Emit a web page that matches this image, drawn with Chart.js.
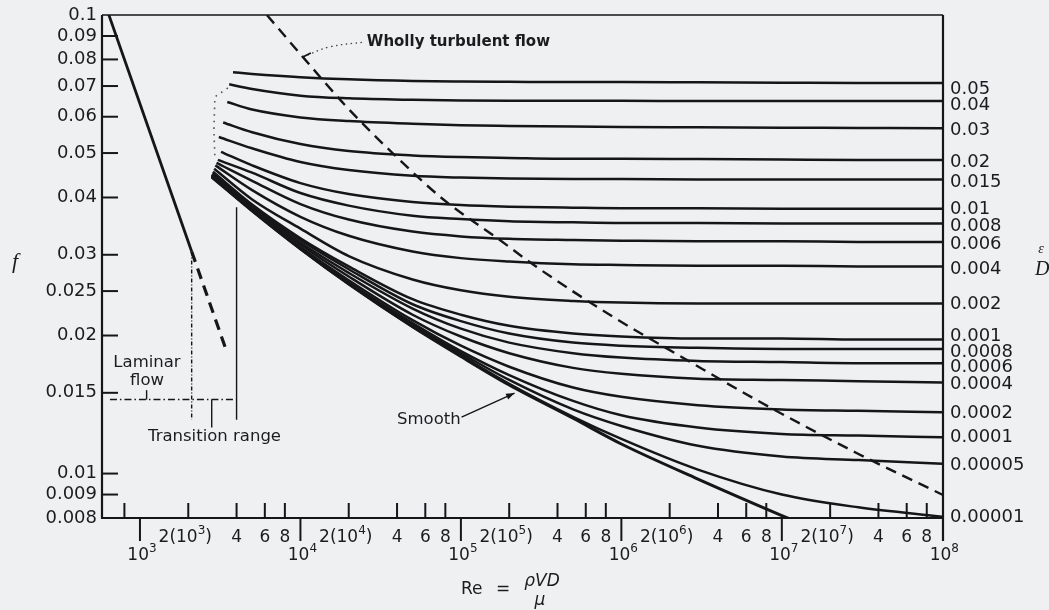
<!DOCTYPE html>
<html><head><meta charset="utf-8">
<script src="https://cdn.jsdelivr.net/npm/chart.js@4.4.1/dist/chart.umd.min.js"></script>
<style>html,body{margin:0;padding:0;background:#eef0f2;}canvas{display:block;}</style>
</head><body>
<canvas id="c" width="1049" height="610"></canvas>
<script>
// ---------- DATA ----------
const reGrid = [5e3, 1e4, 2e4, 5e4, 1e5, 2e5, 5e5, 1e6, 3e6, 1e7, 3e7, 1e8];
const roughnessLabels = ['0.05','0.04','0.03','0.02','0.015','0.01','0.008','0.006','0.004','0.002','0.001','0.0008','0.0006','0.0004','0.0002','0.0001','0.00005','0.00001'];
const curveStartRe = [3800, 3600, 3500, 3300, 3100, 3200, 3060, 3000, 2950, 2900, 2850, 2850, 2850, 2800, 2800, 2800, 2800, 2800];
const curveStartF  = [0.0750, 0.0706, 0.0646, 0.0583, 0.0542, 0.0503, 0.0483, 0.0476, 0.0470, 0.0462, 0.0455, 0.0453, 0.0451, 0.0449, 0.0447, 0.0446, 0.0445, 0.0444];
const f_0_05    = [0.0744, 0.0732, 0.0724, 0.0718, 0.0716, 0.0715, 0.0714, 0.0714, 0.0713, 0.0712, 0.0711, 0.0711];
const f_0_04    = [0.0690, 0.0667, 0.0658, 0.0653, 0.0651, 0.0650, 0.0650, 0.0650, 0.0649, 0.0649, 0.0649, 0.0649];
const f_0_03    = [0.0622, 0.0598, 0.0587, 0.0579, 0.0575, 0.0573, 0.0571, 0.0570, 0.0569, 0.0568, 0.0567, 0.0566];
const f_0_02    = [0.0555, 0.0523, 0.0505, 0.0494, 0.0490, 0.0488, 0.0486, 0.0486, 0.0485, 0.0484, 0.0483, 0.0483];
const f_0_015   = [0.0512, 0.0478, 0.0459, 0.0446, 0.0442, 0.0440, 0.0439, 0.0439, 0.0438, 0.0438, 0.0438, 0.0438];
const f_0_01    = [0.0470, 0.0430, 0.0407, 0.0391, 0.0385, 0.0382, 0.0380, 0.0379, 0.0379, 0.0378, 0.0378, 0.0378];
const f_0_008   = [0.0453, 0.0409, 0.0384, 0.0365, 0.0359, 0.0355, 0.0353, 0.0352, 0.0352, 0.0351, 0.0351, 0.0351];
const f_0_006   = [0.0435, 0.0387, 0.0358, 0.0337, 0.0329, 0.0325, 0.0323, 0.0322, 0.0321, 0.0321, 0.0320, 0.0320];
const f_0_004   = [0.0415, 0.0363, 0.0330, 0.0305, 0.0295, 0.0290, 0.0286, 0.0285, 0.0284, 0.0284, 0.0283, 0.0283];
const f_0_002   = [0.0396, 0.0342, 0.0298, 0.0265, 0.0251, 0.0243, 0.0238, 0.0236, 0.0235, 0.0235, 0.0235, 0.0235];
const f_0_001   = [0.0386, 0.0326, 0.0283, 0.0240, 0.0222, 0.0210, 0.0202, 0.0199, 0.0197, 0.0197, 0.0196, 0.0196];
const f_0_0008  = [0.0384, 0.0323, 0.0279, 0.0234, 0.0215, 0.0202, 0.0193, 0.0190, 0.0188, 0.0187, 0.0187, 0.0187];
const f_0_0006  = [0.0382, 0.0319, 0.0274, 0.0229, 0.0207, 0.0193, 0.0183, 0.0179, 0.0176, 0.0175, 0.0174, 0.0174];
const f_0_0004  = [0.0379, 0.0316, 0.0269, 0.0222, 0.0199, 0.0183, 0.0170, 0.0165, 0.0161, 0.0160, 0.0159, 0.0158];
const f_0_0002  = [0.0377, 0.0312, 0.0264, 0.0216, 0.0190, 0.0171, 0.0154, 0.0147, 0.0141, 0.0138, 0.0137, 0.0136];
const f_0_0001  = [0.0375, 0.0311, 0.0261, 0.0213, 0.0185, 0.0164, 0.0144, 0.0134, 0.0126, 0.0122, 0.0121, 0.0120];
const f_0_00005 = [0.0375, 0.0310, 0.0260, 0.0211, 0.0183, 0.0160, 0.0138, 0.0127, 0.0115, 0.0109, 0.0107, 0.0105];
const f_0_00001 = [0.0374, 0.0309, 0.0259, 0.0209, 0.0181, 0.0157, 0.0133, 0.0119, 0.0102, 0.0090, 0.00844, 0.00805];
const smoothStartRe = 2800, smoothStartF = 0.0443;
const f_smooth  = [0.0374, 0.0309, 0.0259, 0.0209, 0.0180, 0.0156, 0.0132, 0.0116, 0.00973, 0.0081, 0.0069, 0.0058];

const laminarRe = [600, 2100];            const laminarF = [0.1067, 0.0305];
const laminarExtRe = [2100, 3500];        const laminarExtF = [0.0305, 0.0183];
const turbBoundaryRe = [6180, 10350, 19450, 39800, 77100, 175000, 297000, 881000, 2550000, 6950000, 29200000, 101000000];
const turbBoundaryF  = [0.100, 0.0810, 0.0630, 0.0490, 0.0397, 0.0323, 0.0282, 0.0220, 0.0177, 0.01447, 0.01109, 0.00898];
const startDotsRe = [3530, 2930, 2890, 2930];
const startDotsF  = [0.0693, 0.0663, 0.0561, 0.0488];
const turbLeaderRe = [10350, 15200, 25200];
const turbLeaderF  = [0.0810, 0.0852, 0.0873];
const smoothLeaderRe = [101000, 216000];
const smoothLeaderF  = [0.01328, 0.01498];
const transLowRe = [2100, 2100];   const transLowF = [0.0305, 0.0131];
const transHighRe = [4000, 4000];  const transHighF = [0.0381, 0.0131];
const transBarRe = [650, 4000];    const transBarF = [0.0145, 0.0145];
const transMidRe = [2800, 2800];   const transMidF = [0.0145, 0.0126];
const transMarkRe = [1100, 1100];  const transMarkF = [0.0145, 0.0152];

const yTickValues = [0.1, 0.09, 0.08, 0.07, 0.06, 0.05, 0.04, 0.03, 0.025, 0.02, 0.015, 0.01, 0.009, 0.008];
const yTickLabels = ['0.1','0.09','0.08','0.07','0.06','0.05','0.04','0.03','0.025','0.02','0.015','0.01','0.009','0.008'];
const xMinorTicks = [800, 2e3, 4e3, 6e3, 8e3, 2e4, 4e4, 6e4, 8e4, 2e5, 4e5, 6e5, 8e5, 2e6, 4e6, 6e6, 8e6, 2e7, 4e7, 6e7, 8e7];
const xDecades = [1e3, 1e4, 1e5, 1e6, 1e7, 1e8];

// ---------- STYLE ----------
const INK = '#161618', TXT = '#1c1c1e', BG = '#eef0f2';
const rightLabelNudge = [6, 4, 2, 2.5, 2.5, 1, 2.5, 2, 2.5, 0.5, -3.5, 3, 3.7, 1.5, 0.7, 0, 1, 1];

const roughSeries = [f_0_05, f_0_04, f_0_03, f_0_02, f_0_015, f_0_01, f_0_008, f_0_006, f_0_004, f_0_002, f_0_001, f_0_0008, f_0_0006, f_0_0004, f_0_0002, f_0_0001, f_0_00005, f_0_00001];
const pts = (xs, ys) => xs.map((x, i) => ({x, y: ys[i]}));

const datasets = [];
roughSeries.forEach((fa, i) => {
  datasets.push({label: roughnessLabels[i], data: [{x: curveStartRe[i], y: curveStartF[i]}].concat(pts(reGrid, fa)),
    borderColor: INK, borderWidth: 2.5, cubicInterpolationMode: 'monotone', pointRadius: 0, fill: false});
});
datasets.push({label: 'Smooth', data: [{x: smoothStartRe, y: smoothStartF}].concat(pts(reGrid, f_smooth)),
  borderColor: INK, borderWidth: 3, cubicInterpolationMode: 'monotone', pointRadius: 0});
const ann = (data, w, dash, color) => ({data, borderColor: color || INK, borderWidth: w, borderDash: dash || [], pointRadius: 0, tension: 0, borderCapStyle: 'butt'});
datasets.push(ann(pts(laminarRe, laminarF), 2.8));
datasets.push(ann(pts(laminarExtRe, laminarExtF), 3.2, [11, 7]));
datasets.push(Object.assign(ann(pts(turbBoundaryRe, turbBoundaryF), 2.4, [11, 7]), {cubicInterpolationMode: 'monotone'}));
datasets.push(ann(pts(startDotsRe, startDotsF), 1.6, [1.6, 5], '#555'));
datasets.push(Object.assign(ann(pts(turbLeaderRe, turbLeaderF), 1.3, [1.5, 3.5], '#444'), {tension: 0.4}));
datasets.push(ann(pts(smoothLeaderRe, smoothLeaderF), 1.4));
datasets.push(ann(pts(transLowRe, transLowF), 1.4, [4, 2, 1, 2]));
datasets.push(ann(pts(transHighRe, transHighF), 1.4));
datasets.push(ann(pts(transBarRe, transBarF), 1.4, [7, 3, 1.5, 3]));
datasets.push(ann(pts(transMidRe, transMidF), 1.4));
datasets.push(ann(pts(transMarkRe, transMarkF), 1.4));

function supText(ctx, parts, x, y, align, size) {
  const base = size + 'px "DejaVu Sans"', sup = Math.round(size * 0.7) + 'px "DejaVu Sans"';
  let w = 0;
  parts.forEach(p => { ctx.font = p.s ? sup : base; p.w = ctx.measureText(p.t).width; w += p.w; });
  let cx = align === 'center' ? x - w / 2 : (align === 'right' ? x - w : x);
  ctx.textAlign = 'left';
  parts.forEach(p => { ctx.font = p.s ? sup : base; ctx.fillText(p.t, cx, p.s ? y - size * 0.42 : y); cx += p.w; });
}

const decor = {
  id: 'decor',
  beforeDraw(chart) {
    const c = chart.ctx; c.save(); c.fillStyle = BG; c.fillRect(0, 0, chart.width, chart.height); c.restore();
  },
  afterDatasetsDraw(chart) {
    const ctx = chart.ctx, ca = chart.chartArea, xs = chart.scales.x, ys = chart.scales.y;
    const X = v => xs.getPixelForValue(v), Y = v => ys.getPixelForValue(v);
    const seg = (a, b, c, d) => { ctx.beginPath(); ctx.moveTo(a, b); ctx.lineTo(c, d); ctx.stroke(); };
    ctx.save();
    ctx.strokeStyle = INK; ctx.fillStyle = TXT;
    // frame
    ctx.lineWidth = 2.2;
    seg(ca.left, ca.top, ca.left, ca.bottom + 1);
    seg(ca.left, ca.bottom, ca.right, ca.bottom);
    seg(ca.right, ca.top, ca.right, ca.bottom + 23);
    ctx.lineWidth = 1.6;
    seg(ca.left, ca.top, ca.right, ca.top);
    // y ticks + labels
    ctx.lineWidth = 2;
    ctx.font = '18px "DejaVu Sans"'; ctx.textAlign = 'right'; ctx.textBaseline = 'middle';
    yTickValues.forEach((v, i) => {
      const y = Y(v);
      if (i > 0 && i < yTickValues.length - 1) seg(ca.left, y, ca.left + 16, y);
      ctx.fillText(yTickLabels[i], ca.left - 5, y);
    });
    // x ticks
    xMinorTicks.forEach(v => seg(X(v), ca.bottom, X(v), ca.bottom - 15));
    xDecades.forEach(v => { if (v < 1e8) seg(X(v), ca.bottom, X(v), ca.bottom + 23); });
    ctx.textBaseline = 'middle';
    xMinorTicks.forEach(v => {
      const e = Math.floor(Math.log10(v) + 1e-9), m = Math.round(v / Math.pow(10, e));
      if (v < 1000) return;
      if (m === 2) supText(ctx, [{t: '2(10'}, {t: String(e), s: 1}, {t: ')'}], X(v) - 3, ca.bottom + 20, 'center', 17);
      else supText(ctx, [{t: String(m)}], X(v), ca.bottom + 20, 'center', 17);
    });
    xDecades.forEach(v => {
      const e = Math.round(Math.log10(v));
      supText(ctx, [{t: '10'}, {t: String(e), s: 1}], X(v) + 2, ca.bottom + 38, 'center', 17);
    });
    // right roughness labels
    ctx.font = '18px "DejaVu Sans"'; ctx.textAlign = 'left';
    roughSeries.forEach((fa, i) => {
      ctx.fillText(roughnessLabels[i], ca.right + 7, Y(fa[fa.length - 1]) + rightLabelNudge[i]);
    });
    // axis titles
    ctx.font = 'italic 22px "Liberation Serif"'; ctx.textAlign = 'center';
    ctx.fillText('f', 15, 262);
    ctx.font = 'italic 14px "Liberation Serif"'; ctx.fillText('\u03B5', 1041, 249);
    ctx.font = 'italic 20px "Liberation Serif"'; ctx.textAlign = 'left'; ctx.fillText('D', 1035, 270);
    ctx.font = '17px "DejaVu Sans"'; ctx.textAlign = 'left';
    ctx.fillText('Re', 461, 590);
    ctx.fillText('=', 496, 590);
    ctx.font = 'italic 17px "DejaVu Sans"'; ctx.textAlign = 'center';
    ctx.fillText('\u03C1VD', 542, 582);
    ctx.fillText('\u03BC', 540, 601);
    // annotations
    ctx.font = 'bold 15px "DejaVu Sans"'; ctx.textAlign = 'left';
    ctx.fillText('Wholly turbulent flow', X(turbLeaderRe[2]) + 2, Y(turbLeaderF[2]));
    ctx.font = '16.5px "DejaVu Sans"'; ctx.textAlign = 'center';
    ctx.fillText('Laminar', 147, 363);
    ctx.fillText('flow', 147, 381);
    ctx.textAlign = 'left';
    ctx.fillText('Transition range', 148, 437);
    ctx.fillText('Smooth', 397, 420);
    // chevron at wholly-turbulent leader
    ctx.lineWidth = 1.8;
    const px = X(turbLeaderRe[0]), py = Y(turbLeaderF[0]);
    ctx.beginPath(); ctx.moveTo(px + 8, py - 4); ctx.lineTo(px, py); ctx.lineTo(px + 6, py + 7); ctx.stroke();
    // arrowhead on smooth leader
    const ax = X(smoothLeaderRe[1]), ay = Y(smoothLeaderF[1]), bx = X(smoothLeaderRe[0]), by = Y(smoothLeaderF[0]);
    const ang = Math.atan2(ay - by, ax - bx);
    ctx.fillStyle = INK; ctx.beginPath(); ctx.moveTo(ax, ay);
    ctx.lineTo(ax - 9 * Math.cos(ang - 0.35), ay - 9 * Math.sin(ang - 0.35));
    ctx.lineTo(ax - 9 * Math.cos(ang + 0.35), ay - 9 * Math.sin(ang + 0.35));
    ctx.closePath(); ctx.fill();
    ctx.restore();
  }
};

new Chart(document.getElementById('c'), {
  type: 'line',
  data: {datasets},
  options: {
    responsive: false, animation: false, parsing: true,
    layout: {padding: {left: 102, top: 15, right: 106, bottom: 92}},
    plugins: {legend: {display: false}, tooltip: {enabled: false}},
    scales: {
      x: {type: 'logarithmic', min: 580, max: 1.01e8, display: false},
      y: {type: 'logarithmic', min: 0.008, max: 0.1, display: false}
    },
    elements: {point: {radius: 0}, line: {fill: false}}
  },
  plugins: [decor]
});
</script></body></html>
